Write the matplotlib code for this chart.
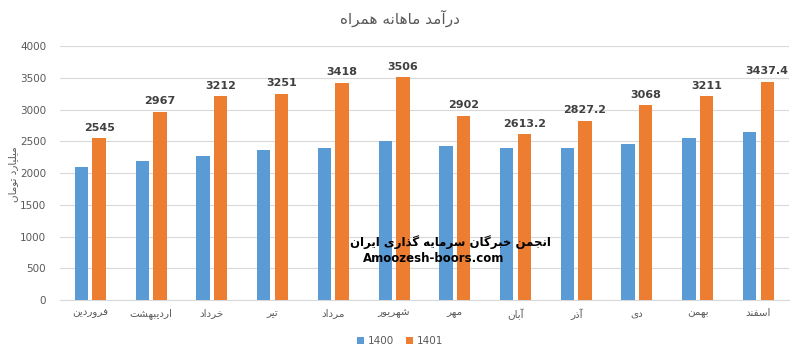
import unicodedata
import numpy as np
import matplotlib
matplotlib.use("Agg")
import matplotlib.pyplot as plt

plt.rcParams['font.family'] = ['DejaVu Sans']

title_text = "درآمد ماهانه همراه"
ylabel_text = "میلیارد تومان"
watermark_fa = "انجمن خبرگان سرمایه گذاری ایران"
watermark_en = "Amoozesh-boors.com"
months = ["فروردین", "اردیبهشت", "خرداد", "تیر", "مرداد", "شهریور",
          "مهر", "آبان", "آذر", "دی", "بهمن", "اسفند"]
series_names = ["1400", "1401"]
values_1400 = [2095, 2190, 2268, 2363, 2394, 2505, 2426, 2394, 2394, 2457, 2552, 2647]
values_1401 = [2545, 2967, 3212, 3251, 3418, 3506, 2902, 2613.2, 2827.2, 3068, 3211, 3437.4]
yticks = [0, 500, 1000, 1500, 2000, 2500, 3000, 3500, 4000]


def _form(ch, kind):
    try:
        return unicodedata.lookup(unicodedata.name(ch) + ' ' + kind + ' FORM')
    except (KeyError, ValueError):
        return None


def _is_ar(c):
    return unicodedata.name(c, '').startswith('ARABIC LETTER')


def _joins_next(c):
    return _is_ar(c) and _form(c, 'INITIAL') is not None


def fa(text):
    """Shape Persian text into presentation forms in visual (RTL) order."""
    chars = list(text)
    out = []
    for i, c in enumerate(chars):
        if not _is_ar(c):
            out.append(c)
            continue
        prev = chars[i - 1] if i > 0 else ''
        nxt = chars[i + 1] if i + 1 < len(chars) else ''
        jp = bool(prev) and _joins_next(prev)
        jn = _joins_next(c) and bool(nxt) and _is_ar(nxt)
        if jp and jn:
            kind = 'MEDIAL'
        elif jp:
            kind = 'FINAL'
        elif jn:
            kind = 'INITIAL'
        else:
            kind = 'ISOLATED'
        out.append(_form(c, kind) or _form(c, 'ISOLATED') or c)
    return ''.join(reversed(out))


BLUE = '#5B9BD5'
ORANGE = '#ED7D31'
GRID = '#D9D9D9'
TXT = '#595959'

fig = plt.figure(figsize=(8, 3.6), dpi=100)
ax = fig.add_axes([0.075, 0.1667, 0.911, 0.7053])

x = np.arange(len(months))
w = 0.22
off = 0.145
b1 = ax.bar(x - off, values_1400, w, color=BLUE, label=series_names[0], zorder=3)
b2 = ax.bar(x + off, values_1401, w, color=ORANGE, label=series_names[1], zorder=3)

for xi, v in zip(x, values_1401):
    ax.annotate(f"{v:g}", (xi + off, v), xytext=(0, 4), textcoords='offset points',
                ha='center', va='bottom', fontsize=8, fontweight='bold', color='#404040')

ax.set_xlim(-0.5, len(months) - 0.5)
ax.set_ylim(0, 4000)
ax.set_yticks(yticks)
ax.set_xticks(x)
ax.set_xticklabels([fa(m) for m in months], fontsize=7.5, color=TXT)
ax.tick_params(axis='y', labelsize=7.5, labelcolor=TXT, length=0, pad=10)
ax.tick_params(axis='x', length=0, pad=6)
ax.grid(axis='y', color=GRID, linewidth=0.8, zorder=0)
for s in ['top', 'right', 'left']:
    ax.spines[s].set_visible(False)
ax.spines['bottom'].set_color(GRID)
ax.spines['bottom'].set_linewidth(0.8)

fig.text(0.5, 0.95, fa(title_text), ha='center', va='center', fontsize=11, color=TXT)
fig.text(0.016, 0.515, fa(ylabel_text), ha='center', va='center', rotation=90,
         fontsize=7.5, color=TXT)

fig.text(0.5625, 0.328, fa(watermark_fa), ha='center', va='center', fontsize=8.5,
         fontweight='bold', color='black', zorder=10)
fig.text(0.542, 0.281, watermark_en, ha='center', va='center', fontsize=8.5,
         fontweight='bold', color='black', zorder=10)

fig.legend(handles=[b1, b2], loc='center', bbox_to_anchor=(0.5, 0.052), ncol=2,
           frameon=False, fontsize=7.5, handlelength=0.7, handleheight=0.7,
           handletextpad=0.3, columnspacing=1.2, labelcolor=TXT)

fig.savefig('out.png', dpi=100)
